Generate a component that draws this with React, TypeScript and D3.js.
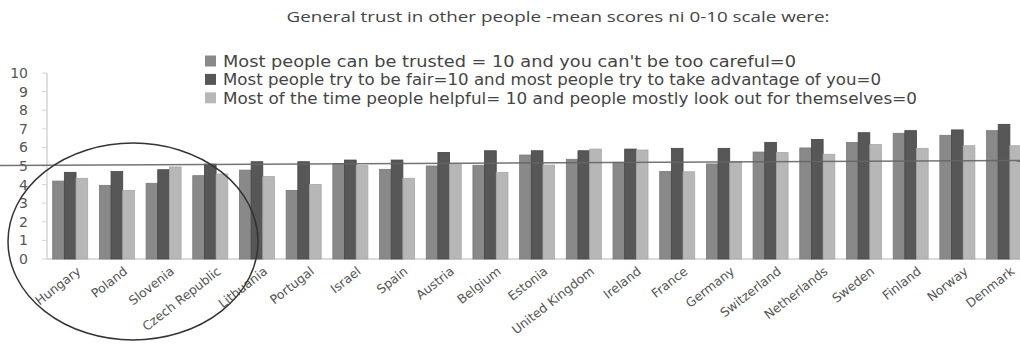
import React from "react";
import * as d3 from "d3";

const countries = [
  "Hungary", "Poland", "Slovenia", "Czech Republic", "Lithuania", "Portugal", "Israel",
  "Spain", "Austria", "Belgium", "Estonia", "United Kingdom", "Ireland", "France",
  "Germany", "Switzerland", "Netherlands", "Sweden", "Finland", "Norway", "Denmark",
];

const trusted = [4.19, 3.96, 4.07, 4.48, 4.78, 3.69, 5.14, 4.82, 5.0, 5.04, 5.59, 5.36, 5.2, 4.71, 5.11, 5.75, 5.97, 6.27, 6.76, 6.65, 6.9];
const fair = [4.66, 4.7, 4.8, 5.1, 5.23, 5.23, 5.32, 5.32, 5.73, 5.82, 5.82, 5.82, 5.91, 5.95, 5.95, 6.27, 6.43, 6.79, 6.9, 6.94, 7.24];
const helpful = [4.34, 3.69, 4.95, 4.57, 4.43, 4.01, 5.02, 4.34, 5.09, 4.66, 5.05, 5.91, 5.86, 4.69, 5.25, 5.72, 5.63, 6.15, 5.95, 6.09, 6.09];

const seriesNames = [
  "Most people can be trusted = 10  and you can't be too careful=0",
  "Most people try to be fair=10 and most people try to take advantage of you=0",
  "Most of the time people helpful= 10 and people mostly look out for themselves=0",
];
const legendWidths = [573, 658, 694];
const seriesColors = ["#898989", "#575757", "#b7b7b7"];
const seriesStroke = ["#7a7a7a", "#454545", "#a8a8a8"];

const yTicks = [0, 1, 2, 3, 4, 5, 6, 7, 8, 9, 10];
const trendStart = 5.03;
const trendEnd = 5.3;

const title = "General trust in other people -mean scores ni 0-10 scale were:";

export default function App() {
  const W = 1020;
  const H = 352;
  const x0 = 46.85;
  const x1 = 1027.4;
  const y = d3.scaleLinear().domain([0, 10]).range([259, 73]);
  const x = d3.scaleBand<string>().domain(countries).range([x0, x1]).paddingInner(0.25).paddingOuter(0.125);
  const xs = d3.scaleBand<number>().domain([0, 1, 2]).range([0, x.bandwidth()]);
  const series = [trusted, fair, helpful];
  const axisX = 47;
  const font = "'DejaVu Sans', Verdana, sans-serif";

  return (
    <svg width={W} height={H} style={{ position: "absolute", left: 0, top: 0, background: "#fff" }}>
      <rect x={0} y={0} width={W} height={H} fill="#fff" />
      <text x={558} y={22} textAnchor="middle" fontFamily="'Open Sans', sans-serif" fontSize={15} fill="#444" textLength={543} lengthAdjust="spacingAndGlyphs">
        {title}
      </text>

      {seriesNames.map((n, i) => (
        <g key={n} transform={`translate(205, ${61 + i * 18.4})`}>
          <rect x={0} y={-5.5} width={11} height={11} fill={seriesColors[i]} />
          <text x={18} y={0} dy="0.36em" fontFamily={font} fontSize={16.5} fill="#444" textLength={legendWidths[i]} lengthAdjust="spacingAndGlyphs">
            {n}
          </text>
        </g>
      ))}

      <line x1={axisX} x2={axisX} y1={y(10)} y2={y(0)} stroke="#d4d4d4" strokeWidth={1.5} />
      <line x1={axisX} x2={W} y1={y(0)} y2={y(0)} stroke="#cfcfcf" strokeWidth={1.5} />
      {yTicks.map((t) => (
        <g key={t}>
          <line x1={axisX - 5} x2={axisX} y1={y(t)} y2={y(t)} stroke="#d4d4d4" />
          <text x={28} y={y(t)} dy="0.36em" textAnchor="end" fontFamily={font} fontSize={14} fill="#555">
            {t}
          </text>
        </g>
      ))}

      {countries.map((c, ci) => (
        <g key={c} transform={`translate(${x(c)}, 0)`}>
          {series.map((s, si) => (
            <rect
              key={si}
              x={xs(si)}
              y={y(s[ci])}
              width={xs.bandwidth()}
              height={y(0) - y(s[ci])}
              fill={seriesColors[si]}
              stroke={seriesStroke[si]}
              strokeWidth={0.8}
            />
          ))}
        </g>
      ))}

      <line x1={0} x2={W} y1={y(trendStart)} y2={y(trendEnd)} stroke="#666" strokeWidth={1.5} opacity={0.9} />

      {countries.map((c) => {
        const cx = (x(c) as number) + x.bandwidth() / 2;
        return (
          <text
            key={c}
            transform={`translate(${cx + 6}, 266) rotate(-38)`}
            textAnchor="end"
            dy="0.7em"
            fontFamily={font}
            fontSize={12.5}
            fill="#555"
          >
            {c}
          </text>
        );
      })}

      <ellipse cx={133} cy={241.5} rx={125} ry={98.5} fill="none" stroke="#333" strokeWidth={1.5} />
    </svg>
  );
}
